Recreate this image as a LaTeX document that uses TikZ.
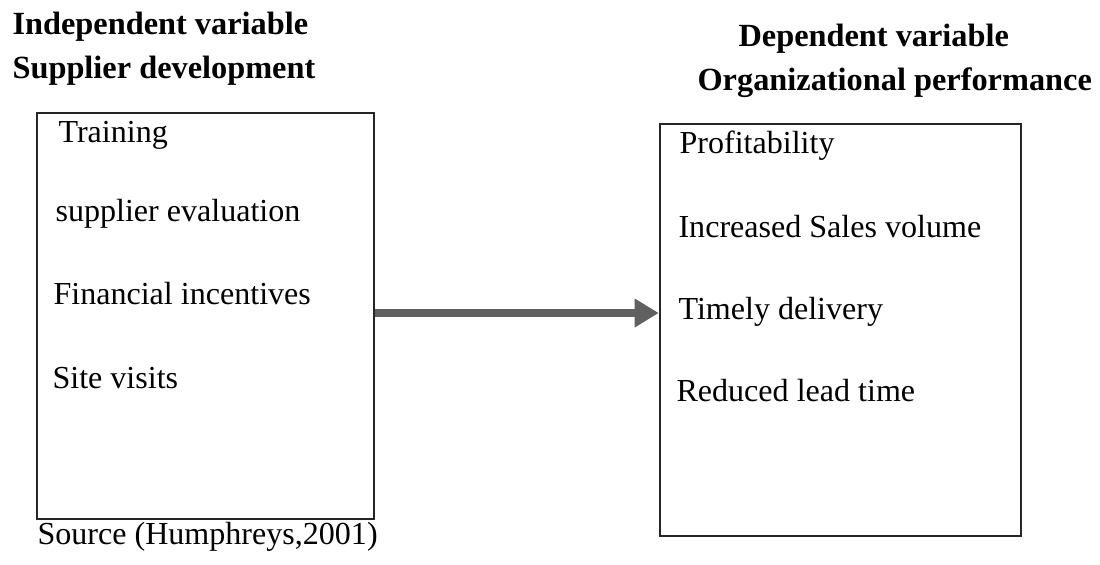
\documentclass[tikz,border=0pt]{standalone}
\usepackage{fontspec}
\setmainfont{Liberation Serif}
\usetikzlibrary{arrows.meta, positioning, fit}

\begin{document}
\begin{tikzpicture}[
    x=0.0125cm, y=-0.0125cm,
    every node/.style={font=\fontsize{11.4}{13}\selectfont},
    heading/.style={font=\fontsize{11.5}{13}\selectfont\bfseries, anchor=base west, inner sep=0pt},
    item/.style={anchor=base west, inner sep=0pt},
    varbox/.style={draw=black!85, line width=0.9pt, inner sep=0pt},
    flow/.style={-{Triangle[length=0.3cm, width=0.34cm]}, line width=2.9pt, draw=gray!75!black, fill=gray!75!black},
]
\useasboundingbox (0,0) rectangle (1100,564);
% headings
\node[heading] (indep) at (12,34) {Independent variable};
\node[heading] (supdevtitle) at (12,78) {Supplier development};
\node[heading] (dep) at (738,46) {Dependent variable};
\node[heading] (orgperftitle) at (697,90) {Organizational performance};
% boxes
\node[varbox, fit={(37,113) (374,519)}] (supdev) {};
\node[varbox, fit={(660,124) (1021,536)}] (orgperf) {};
% independent items
\node[item] (training) at (58,142) {Training};
\node[item] (evaluation) at (55,221) {supplier evaluation};
\node[item] (incentives) at (53,304) {Financial incentives};
\node[item] (visits) at (52,388) {Site visits};
% dependent items
\node[item] (profit) at (679,153) {Profitability};
\node[item] (sales) at (678,237) {Increased Sales volume};
\node[item] (delivery) at (678,319) {Timely delivery};
\node[item] (leadtime) at (676,401) {Reduced lead time};
\node[item] (source) at (37,544) {Source (Humphreys,2001)};
% link
\coordinate (flowy) at (0,313);
\draw[flow] (supdev.east |- flowy) -- (orgperf.west |- flowy);
\end{tikzpicture}
\end{document}
